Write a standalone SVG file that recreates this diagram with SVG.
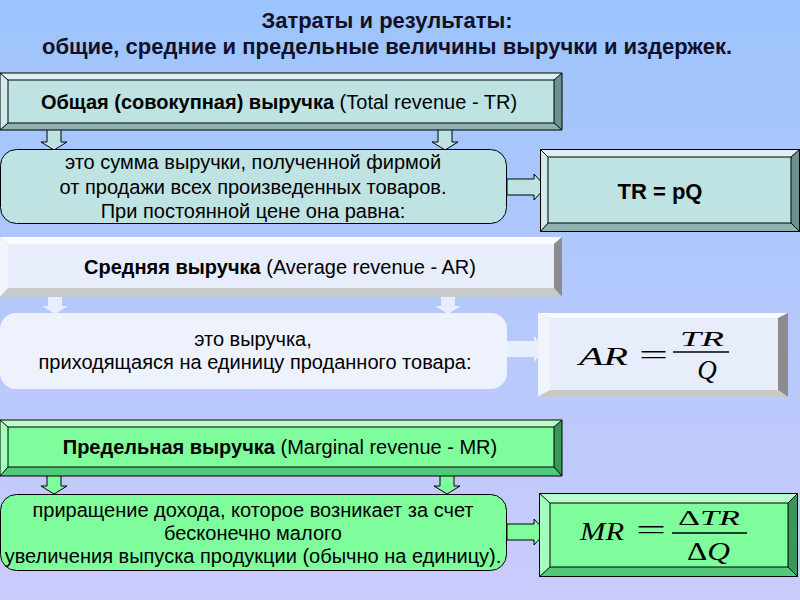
<svg xmlns="http://www.w3.org/2000/svg" width="800" height="600" viewBox="0 0 800 600">
<defs>
<linearGradient id="bg" x1="0" y1="0" x2="0" y2="1">
<stop offset="0" stop-color="#9cc4fc"/>
<stop offset="0.5" stop-color="#b3c8fc"/>
<stop offset="1" stop-color="#cbcbfc"/>
</linearGradient>
<path id="adown" d="M-7,-27 L7,-27 L7,-8 L13,-8 L0,0 L-13,-8 L-7,-8 Z"/>
<path id="aright" d="M-39,-8 L-12,-8 L-12,-13 L0,0 L-12,13 L-12,8 L-39,8 Z"/>
</defs>
<style>
text{font-family:"Liberation Sans",Arial,sans-serif;fill:#000}
.title{font-size:22px;font-weight:bold;fill:#10102a}
.hd{font-size:20px}
.b{font-weight:bold}
.ds{font-size:20px}
.fm{font-family:"Liberation Serif","Times New Roman",serif;font-style:italic}
.fu{font-family:"Liberation Serif","Times New Roman",serif}
.tface{fill:#bfe2e2}
.ttop{fill:#e0f1f1}
.tleft{fill:#d2eaea}
.tbot{fill:#8fb1b1}
.tright{fill:#6f9090}
.aface{fill:#e7edfb}
.atop{fill:#f9fbff}
.aleft{fill:#f1f4fd}
.abot{fill:#c9c9cb}
.aright{fill:#8c8c8e}
.gface{fill:#7ffd9d}
.gtop{fill:#b8ffcc}
.gleft{fill:#a3ffbb}
.gbot{fill:#52c979}
.gright{fill:#3a9758}
.edge{stroke:#000;stroke-width:1;fill:none}
</style>
<rect width="800" height="600" fill="url(#bg)"/>

<g id="title">
<text class="title" x="387" y="28" text-anchor="middle">Затраты и результаты:</text>
<text class="title" x="387" y="54" text-anchor="middle">общие, средние и предельные величины выручки и издержек.</text>
</g>

<g id="connectors">
<g fill="#bfe2e2" stroke="#000" stroke-width="1">
<use href="#adown" x="54" y="150"/>
<use href="#adown" x="445" y="150"/>
<use href="#aright" x="546" y="187"/>
</g>
<g fill="#e7eefc">
<use href="#adown" x="55" y="314"/>
<use href="#adown" x="448" y="314"/>
<use href="#aright" x="546" y="349"/>
</g>
<g fill="#7ffd9d" stroke="#000" stroke-width="1">
<use href="#adown" x="54" y="494"/>
<use href="#adown" x="447" y="494"/>
<use href="#aright" x="546" y="532"/>
</g>
</g>

<g id="tr-head">
<polygon class="ttop" points="0,73 562,73 554,80 8,80"/>
<polygon class="tleft" points="0,73 8,80 8,123 0,130"/>
<polygon class="tright" points="562,73 562,130 554,123 554,80"/>
<polygon class="tbot" points="0,130 8,123 554,123 562,130"/>
<rect class="tface" x="8" y="80" width="546" height="43"/>
<path class="edge" d="M0,73H562V130H0Z M8,80H554V123H8Z M0,73L8,80 M562,73L554,80 M562,130L554,123 M0,130L8,123"/>
<text class="hd" x="279" y="109" text-anchor="middle"><tspan class="b">Общая (совокупная) выручка</tspan> (Total revenue - TR)</text>
</g>

<g id="tr-desc">
<rect x="0.5" y="149.5" width="506" height="74" rx="16" fill="#bfe2e2" stroke="#000"/>
<text class="ds" x="253" y="169" text-anchor="middle">это сумма выручки, полученной фирмой</text>
<text class="ds" x="253" y="194" text-anchor="middle">от продажи всех произведенных товаров.</text>
<text class="ds" x="253" y="218" text-anchor="middle">При постоянной цене она равна:</text>
</g>

<g id="tr-formula">
<polygon class="ttop" points="540,149 800,149 791,157 548,157"/>
<polygon class="tleft" points="540,149 548,157 548,223 540,232"/>
<polygon class="tright" points="800,149 800,232 791,223 791,157"/>
<polygon class="tbot" points="540,232 548,223 791,223 800,232"/>
<rect class="tface" x="548" y="157" width="243" height="66"/>
<path class="edge" d="M540.5,149.5H799.5V231.5H540.5Z M548,157H791V223H548Z M540,149L548,157 M800,149L791,157 M800,232L791,223 M540,232L548,223"/>
<text x="660" y="199" text-anchor="middle" font-size="22" font-weight="bold">TR = pQ</text>
</g>

<g id="ar-head">
<polygon class="atop" points="0,237 562,237 554,244 8,244"/>
<polygon class="aleft" points="0,237 8,244 8,288 0,297"/>
<polygon class="aright" points="562,237 562,297 554,288 554,244"/>
<polygon class="abot" points="0,297 8,288 554,288 562,297"/>
<rect class="aface" x="8" y="244" width="546" height="44"/>
<text class="hd" x="280" y="274" text-anchor="middle"><tspan class="b">Средняя выручка</tspan> (Average revenue - AR)</text>
</g>

<g id="ar-desc">
<rect x="0" y="313" width="507" height="76" rx="16" fill="#eef2fc"/>
<text class="ds" x="253" y="346" text-anchor="middle">это выручка,</text>
<text class="ds" x="255" y="369" text-anchor="middle">приходящаяся на единицу проданного товара:</text>
</g>

<g id="ar-formula">
<polygon class="atop" points="538,313 788,313 778,318 550,318"/>
<polygon class="aleft" points="538,313 550,318 550,390 538,397"/>
<polygon class="aright" points="788,313 788,397 778,390 778,318"/>
<polygon class="abot" points="538,397 550,390 778,390 788,397"/>
<rect class="aface" x="550" y="318" width="228" height="72"/>
<text class="fm" x="579" y="365" font-size="26" textLength="49" lengthAdjust="spacingAndGlyphs">AR</text>
<text class="fu" x="639" y="364" font-size="28" textLength="29" lengthAdjust="spacingAndGlyphs">=</text>
<text class="fm" x="680" y="346" font-size="22" textLength="44" lengthAdjust="spacingAndGlyphs">TR</text>
<line x1="673" y1="352" x2="729" y2="352" stroke="#000" stroke-width="1.5"/>
<text class="fm" x="707" y="379" font-size="27" text-anchor="middle">Q</text>
</g>

<g id="mr-head">
<polygon class="gtop" points="0,420 562,420 554,427 8,427"/>
<polygon class="gleft" points="0,420 8,427 8,467 0,476"/>
<polygon class="gright" points="562,420 562,476 554,467 554,427"/>
<polygon class="gbot" points="0,476 8,467 554,467 562,476"/>
<rect class="gface" x="8" y="427" width="546" height="40"/>
<path class="edge" d="M0,420H562V476H0Z M8,427H554V467H8Z M0,420L8,427 M562,420L554,427 M562,476L554,467 M0,476L8,467"/>
<text class="hd" x="280" y="454" text-anchor="middle"><tspan class="b">Предельная выручка</tspan> (Marginal revenue - MR)</text>
</g>

<g id="mr-desc">
<rect x="0.5" y="494.5" width="506" height="76" rx="16" fill="#7ffd9d" stroke="#000"/>
<text class="ds" x="253" y="517" text-anchor="middle">приращение дохода, которое возникает за счет</text>
<text class="ds" x="253" y="540" text-anchor="middle">бесконечно малого</text>
<text class="ds" x="253" y="563" text-anchor="middle">увеличения выпуска продукции (обычно на единицу).</text>
</g>

<g id="mr-formula">
<polygon class="gtop" points="539,493 798,493 788,503 550,503"/>
<polygon class="gleft" points="539,493 550,503 550,567 539,577"/>
<polygon class="gright" points="798,493 798,577 788,567 788,503"/>
<polygon class="gbot" points="539,577 550,567 788,567 798,577"/>
<rect class="gface" x="550" y="503" width="238" height="64"/>
<path class="edge" d="M539.5,493.5H797.5V576.5H539.5Z M550,503H788V567H550Z M539,493L550,503 M798,493L788,503 M798,577L788,567 M539,577L550,567"/>
<text class="fm" x="580" y="540" font-size="26" textLength="44" lengthAdjust="spacingAndGlyphs">MR</text>
<text class="fu" x="636" y="539" font-size="28" textLength="30" lengthAdjust="spacingAndGlyphs">=</text>
<text x="678" y="525" font-size="22" textLength="62" lengthAdjust="spacingAndGlyphs"><tspan class="fu">Δ</tspan><tspan class="fm">TR</tspan></text>
<line x1="672" y1="533" x2="747" y2="533" stroke="#000" stroke-width="1.5"/>
<text x="687" y="560" font-size="25" textLength="43" lengthAdjust="spacingAndGlyphs"><tspan class="fu">Δ</tspan><tspan class="fm">Q</tspan></text>
</g>
</svg>
